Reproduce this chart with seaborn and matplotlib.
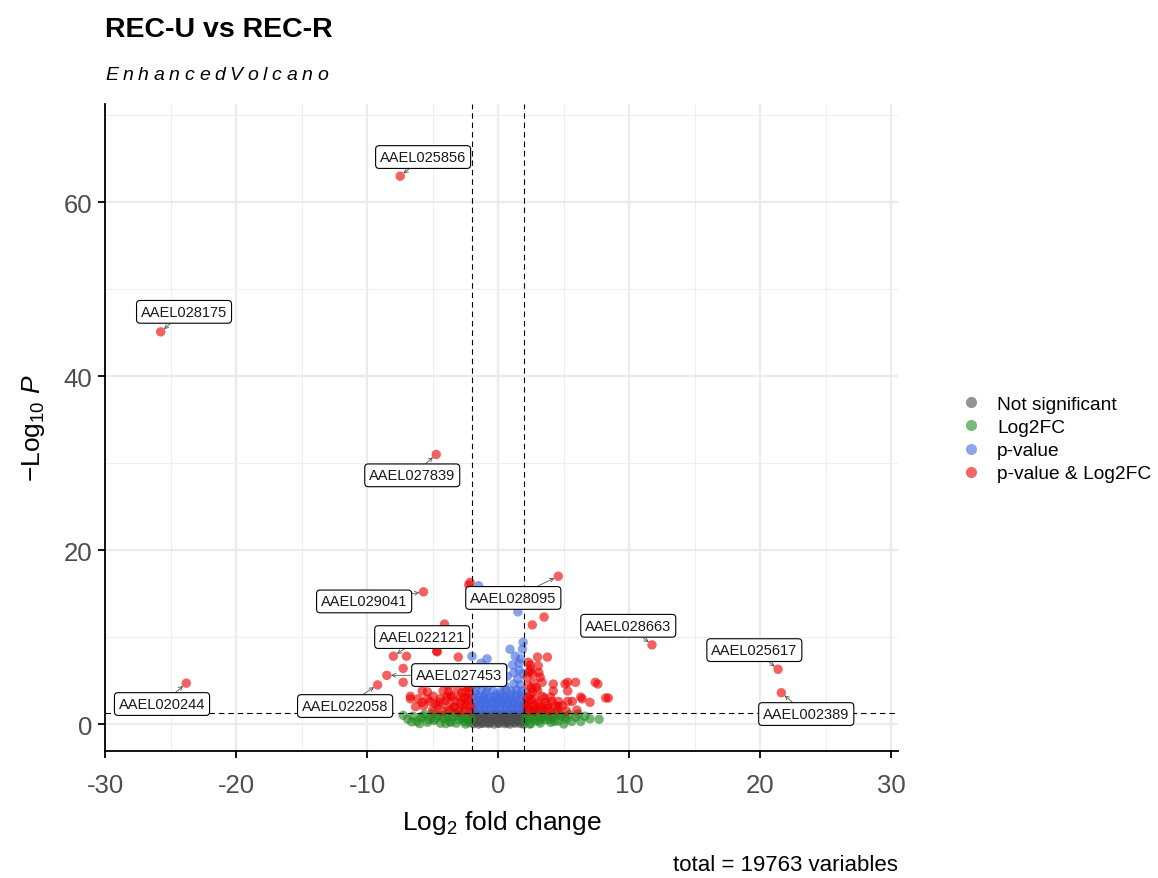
import matplotlib
matplotlib.use("Agg")
import matplotlib.pyplot as plt
from matplotlib.lines import Line2D
import seaborn as sns
import pandas as pd

# ---- data: log2 fold change / -log10 p per significance class ----
ns_x = [-1.9, -1.5, -1.1, -0.7, -0.3, 0.1, 0.5, 0.9, 1.3, 1.7, 1.95,
        -1.7, -1.3, -0.9, -0.5, -0.1, 0.3, 0.7, 1.1, 1.5, 1.9,
        -1.95, -1.5, -1.1, -0.7, -0.3, 0.1, 0.5, 0.9, 1.3, 1.7, 1.95,
        -1.7, -1.3, -0.9, -0.5, -0.1, 0.3, 0.7, 1.1, 1.5, 1.9,
        -1.8, -1.2, -0.6, 0.0, 0.6, 1.2, 1.8, -1.4, -0.2, 0.4, 1.0, 1.6,
        -1.85, -1.6, -1.0, -0.4, 0.2, 0.8, 1.4, 1.85, -1.3, -0.8, 0.0, 0.7, 1.2,
        -1.75, -1.05, -0.35, 0.35, 1.05, 1.75, -1.6, -0.6, 0.5, 1.5]
ns_y = [0.05, 0.0, 0.1, 0.05, 0.0, 0.1, 0.05, 0.0, 0.1, 0.05, 0.0,
        0.45, 0.4, 0.5, 0.45, 0.4, 0.5, 0.45, 0.4, 0.5, 0.45,
        0.85, 0.8, 0.9, 0.85, 0.8, 0.9, 0.85, 0.8, 0.9, 0.85, 0.8,
        1.2, 1.25, 1.15, 1.2, 1.25, 1.15, 1.2, 1.25, 1.15, 1.2,
        0.25, 0.3, 0.2, 0.3, 0.25, 0.2, 0.3, 1.0, 1.05, 0.65, 1.0, 0.65,
        0.6, 0.65, 0.7, 0.6, 0.65, 0.7, 0.6, 1.05, 0.1, 0.15, 0.1, 0.15, 1.0,
        1.1, 0.95, 1.1, 0.95, 1.1, 0.95, 0.3, 0.35, 0.4, 0.35]

fc_x = [-7.25, -6.9, -6.5, -6.2, -5.9, -5.6, -5.4, -5.1, -4.9, -4.6, -4.4, -4.2, -3.9, -3.7,
        -3.5, -3.2, -3.0, -2.8, -2.6, -2.4, -2.2, -2.1, -2.05, -4.0, -5.0, -6.0, -3.3, -2.5,
        -4.8, -4.3, -3.6, -3.1, -2.7, -2.3, -5.3, -5.8, -6.6, -3.8,
        2.05, 2.1, 2.3, 2.5, 2.6, 2.8, 3.0, 3.2, 3.4, 3.6, 3.8, 4.0, 4.2, 4.4,
        4.6, 4.8, 5.0, 5.2, 5.4, 5.6, 5.9, 6.1, 6.3, 6.6, 7.0, 7.7, 3.3, 2.4,
        2.2, 2.7, 3.1, 3.5, 3.9, 4.3, 4.7, 5.1, 2.9, 4.1]
fc_y = [1.0, 0.55, 0.9, 0.3, 0.7, 1.1, 0.2, 0.8, 0.4, 1.0, 0.1, 0.6, 1.2, 0.3,
        0.8, 0.1, 0.5, 1.1, 0.3, 0.8, 0.15, 1.2, 0.55, 0.05, 1.25, 0.05, 1.25, 0.0,
        0.6, 1.0, 0.2, 1.0, 0.7, 0.4, 0.5, 0.9, 0.25, 0.85,
        0.3, 1.0, 0.6, 0.05, 1.2, 0.4, 0.9, 0.1, 1.15, 0.5, 0.9, 0.2, 0.7, 1.2,
        0.35, 0.9, 0.0, 0.55, 1.1, 0.3, 0.8, 1.15, 0.3, 0.9, 0.6, 0.55, 0.6, 0.0,
        0.75, 0.8, 0.35, 0.95, 0.55, 0.3, 1.1, 0.85, 1.25, 1.0]

p_x = [-1.5, 1.5, 1.9, 1.85, 0.9, 1.3, 1.7, -2.0, -0.85, -1.3, -1.8, -0.5, 0.4, 1.1, 1.6,
       -1.6, -1.0, 0.0, 0.7, 1.9, -1.9,
       -1.9, -1.5, -1.1, -0.7, -0.3, 0.1, 0.5, 0.9, 1.3, 1.7, 1.95,
       -1.7, -1.3, -0.9, -0.5, -0.1, 0.3, 0.7, 1.1, 1.5, 1.9,
       -1.9, -1.5, -1.1, -0.7, -0.3, 0.1, 0.5, 0.9, 1.3, 1.7,
       -1.7, -1.3, -0.9, -0.4, 0.2, 0.6, 1.0, 1.4, 1.8,
       -1.9, -1.4, -0.8, 0.5, 1.2, 1.7, -1.2, 1.5,
       -1.8, -1.4, -1.0, -0.6, -0.2, 0.2, 0.6, 1.0, 1.4, 1.8,
       -1.6, -1.2, -0.8, -0.4, 0.0, 0.4, 0.8, 1.2, 1.6,
       -1.7, -1.0, -0.2, 0.3, 0.9, 1.4, 1.9, -1.5, 1.6, 1.2]
p_y = [15.9, 12.9, 9.4, 8.6, 8.6, 7.8, 7.5, 7.8, 7.5, 7.0, 6.5, 6.0, 6.5, 6.8, 6.2,
       5.7, 5.5, 5.0, 5.5, 5.8, 5.0,
       1.6, 1.7, 1.6, 1.7, 1.6, 1.7, 1.6, 1.7, 1.6, 1.7, 1.6,
       2.3, 2.4, 2.3, 2.4, 2.3, 2.4, 2.3, 2.4, 2.3, 2.4,
       3.1, 3.0, 3.1, 3.0, 3.1, 3.0, 3.1, 3.0, 3.1, 3.0,
       3.8, 3.9, 3.7, 3.8, 3.7, 3.9, 3.8, 3.9, 3.8,
       4.5, 4.6, 4.3, 4.4, 4.6, 4.5, 6.3, 5.2,
       2.0, 1.95, 2.0, 1.9, 2.0, 1.95, 2.0, 1.9, 2.0, 1.95,
       2.7, 2.75, 2.7, 2.65, 2.7, 2.75, 2.7, 2.65, 2.7,
       3.45, 3.4, 3.4, 3.45, 3.4, 3.45, 3.4, 5.3, 7.0, 5.9]

both_x = [-7.48, -25.75, -4.73, -5.7, 4.58, 11.73, 21.35, 21.6, -23.8, -9.2, -8.0, -8.5,
          -2.14, -2.25, -4.1, -4.05, -4.7, -7.0, -7.25, -7.25, -3.05, -4.65, -6.7, -6.1,
          -5.8, -5.4, -4.96, -4.43, -4.2, -3.8, -3.5, -3.1, -2.9, -2.5, -2.3, -5.2, -5.7,
          -3.9, -3.3, -2.75, -4.6, -2.1, -2.4, -3.4, -3.8, -3.05, -5.8, -6.7,
          -2.2, -3.0, -3.7, -4.3, -5.0, -2.6, -3.3, -4.0, -2.6, -2.2, -2.2,
          -2.5, -2.9, -3.4, -3.9, -4.5, -2.3, -2.8, -3.6, -2.4, -4.8, -5.4, -6.3,
          2.6, 3.5, 2.45, 3.0, 3.75, 2.3, 3.05, 2.45, 3.2, 2.7, 3.35, 4.2, 5.3, 5.9, 7.4,
          7.6, 5.3, 4.2, 5.65, 6.4, 7.0, 8.4, 4.6, 2.3, 2.6, 2.8, 3.35, 2.3, 3.6, 4.1,
          2.7, 3.2, 3.8, 4.35, 4.9, 2.2, 5.1, 6.3, 5.3, 8.2,
          2.2, 2.7, 3.3, 3.9, 4.5, 5.2, 6.0, 2.4, 3.0, 2.2, 2.5,
          2.3, 2.8, 3.3, 3.8, 2.5, 3.0, 3.5, 2.2, 2.6, 4.0, 4.6, 2.9, 2.4, 3.1]
both_y = [63.0, 45.1, 31.0, 15.2, 17.0, 9.1, 6.3, 3.6, 4.7, 4.5, 7.8, 5.6,
          16.3, 16.0, 11.5, 10.7, 8.4, 7.8, 6.4, 4.8, 7.7, 8.3, 3.2, 2.9,
          3.8, 3.7, 3.2, 2.9, 3.8, 3.7, 3.1, 4.0, 3.1, 3.7, 2.6, 2.6, 2.1,
          2.1, 2.0, 2.1, 2.1, 2.1, 4.8, 4.8, 4.4, 4.8, 2.5, 2.9,
          1.5, 1.5, 1.6, 1.5, 1.6, 1.6, 2.6, 2.7, 3.0, 3.5, 4.2,
          2.2, 2.5, 1.9, 3.1, 2.5, 3.0, 3.6, 3.3, 4.3, 2.3, 2.9, 2.0,
          11.4, 12.3, 6.8, 7.7, 7.7, 7.1, 6.7, 6.3, 5.4, 4.8, 4.8, 4.6, 4.8, 4.8, 4.8,
          4.6, 3.8, 3.8, 2.6, 2.9, 2.5, 3.0, 2.6, 4.4, 3.7, 2.9, 3.2, 2.5, 2.5, 2.6,
          2.1, 2.1, 2.1, 2.1, 2.1, 5.4, 4.6, 3.1, 2.6, 3.0,
          1.6, 1.5, 1.6, 1.5, 1.6, 1.5, 1.6, 3.3, 3.9, 2.2, 4.1,
          1.9, 1.8, 1.9, 1.8, 2.8, 2.4, 3.0, 3.0, 5.8, 3.1, 2.0, 4.2, 6.0, 5.9]

# labelled genes: name, point, label-box centre
gene_names = ["AAEL025856", "AAEL028175", "AAEL027839", "AAEL029041", "AAEL028095",
              "AAEL028663", "AAEL025617", "AAEL002389", "AAEL020244", "AAEL022058",
              "AAEL022121", "AAEL027453"]
gene_x = [-7.48, -25.75, -4.73, -5.7, 4.58, 11.73, 21.35, 21.6, -23.8, -9.2, -8.0, -8.5]
gene_y = [63.0, 45.1, 31.0, 15.2, 17.0, 9.1, 6.3, 3.6, 4.7, 4.5, 7.8, 5.6]
label_x = [-5.73, -23.97, -6.56, -10.23, 1.15, 9.92, 19.54, 23.5, -25.65, -11.68, -5.8, -2.98]
label_y = [65.2, 47.4, 28.6, 14.1, 14.5, 11.3, 8.5, 1.15, 2.3, 2.07, 10.0, 5.63]

groups = ["Not significant", "Log2FC", "p-value", "p-value & Log2FC"]
colours = ["#4D4D4D", "#228B22", "#4169E1", "#EE0000"]
fc_cut, p_cut = 2.0, 1.30103
total_variables = 19763

# ---- build table ----
frames = []
for g, xs, ys in zip(groups, [ns_x, fc_x, p_x, both_x], [ns_y, fc_y, p_y, both_y]):
    frames.append(pd.DataFrame({"log2FC": xs, "nlogp": ys, "group": g}))
df = pd.concat(frames, ignore_index=True)

sns.set_theme(style="white")
plt.rcParams["font.family"] = ["Liberation Sans", "DejaVu Sans"]
plt.rcParams["text.color"] = "black"
plt.rcParams["axes.unicode_minus"] = False
plt.rcParams["mathtext.fontset"] = "custom"
plt.rcParams["mathtext.rm"] = "Liberation Sans"
plt.rcParams["mathtext.it"] = "Liberation Sans:italic"
plt.rcParams["mathtext.bf"] = "Liberation Sans:bold"

W, H = 1158, 879
fig = plt.figure(figsize=(W / 100, H / 100), dpi=100)
ax = fig.add_axes([105 / W, 1 - 752 / H, (898 - 105) / W, (752 - 105) / H])

# grid
for v in range(-30, 31, 10):
    ax.axvline(v, color="#EBEBEB", lw=1.6, zorder=0)
for v in range(-25, 30, 10):
    ax.axvline(v, color="#EFEFEF", lw=0.8, zorder=0)
for v in range(0, 71, 20):
    ax.axhline(v, color="#EBEBEB", lw=1.6, zorder=0)
for v in range(10, 71, 20):
    ax.axhline(v, color="#EFEFEF", lw=0.8, zorder=0)

sns.scatterplot(data=df, x="log2FC", y="nlogp", hue="group", hue_order=groups,
                palette=colours, s=46, alpha=0.62, linewidth=0, legend=False,
                ax=ax, zorder=2)

# cut-offs
for v in (-fc_cut, fc_cut):
    ax.axvline(v, color="black", lw=0.8, ls=(0, (5, 3.5)), zorder=3)
ax.axhline(p_cut, color="black", lw=0.8, ls=(0, (5, 3.5)), zorder=3)

# gene labels
for name, px, py, lx, ly in zip(gene_names, gene_x, gene_y, label_x, label_y):
    ax.annotate(name, xy=(px, py), xytext=(lx, ly), ha="center", va="center",
                fontsize=10.5, color="#1a1a1a", zorder=5,
                bbox=dict(boxstyle="round,pad=0.3,rounding_size=0.25", fc="white",
                          ec="black", lw=0.8),
                arrowprops=dict(arrowstyle="->", color="#555555", lw=0.6,
                                shrinkA=0, shrinkB=3, mutation_scale=7))

ax.set_xlim(-30, 30.5)
ax.set_ylim(-3.1, 71.3)
ax.set_xticks(range(-30, 31, 10))
ax.set_yticks(range(0, 61, 20))
for side in ("top", "right"):
    ax.spines[side].set_visible(False)
for side in ("left", "bottom"):
    ax.spines[side].set_color("black")
    ax.spines[side].set_linewidth(1.3)
ax.tick_params(axis="both", which="major", direction="out", length=5, width=1.3,
               color="black", labelsize=18.5, labelcolor="#4D4D4D", pad=4,
               bottom=True, left=True)
ax.tick_params(axis="x", pad=11)
ax.set_xlabel(r"Log$_{2}$ fold change", fontsize=19, color="black", labelpad=8)
ax.set_ylabel(r"$-$Log$_{10}$ $P$", fontsize=19, color="black", labelpad=12)

# titles
fig.text(105 / W, 1 - 30 / H, "REC-U vs REC-R", fontsize=20.5, fontweight="bold",
         ha="left", va="center")
renderer = fig.canvas.get_renderer()
cx = 105
for ch in "EnhancedVolcano":
    t = fig.text(cx / W, 1 - 75 / H, ch, fontsize=14, fontstyle="italic",
                 ha="left", va="center")
    bb = t.get_window_extent(renderer)
    cx += bb.width + 4.6

fig.text(898 / W, 1 - 866 / H, f"total = {total_variables} variables",
         fontsize=16, ha="right", va="center")

handles = [Line2D([0], [0], marker="o", ls="", markersize=8, markerfacecolor=c,
                  markeredgewidth=0, alpha=0.6) for c in colours]
fig.legend(handles, groups, loc="center left", bbox_to_anchor=(952 / W, 1 - 440 / H),
           frameon=False, fontsize=13.8, handletextpad=0.75, labelspacing=0.3,
           borderaxespad=0, handlelength=1.2)

fig.savefig("out.png", dpi=100)
